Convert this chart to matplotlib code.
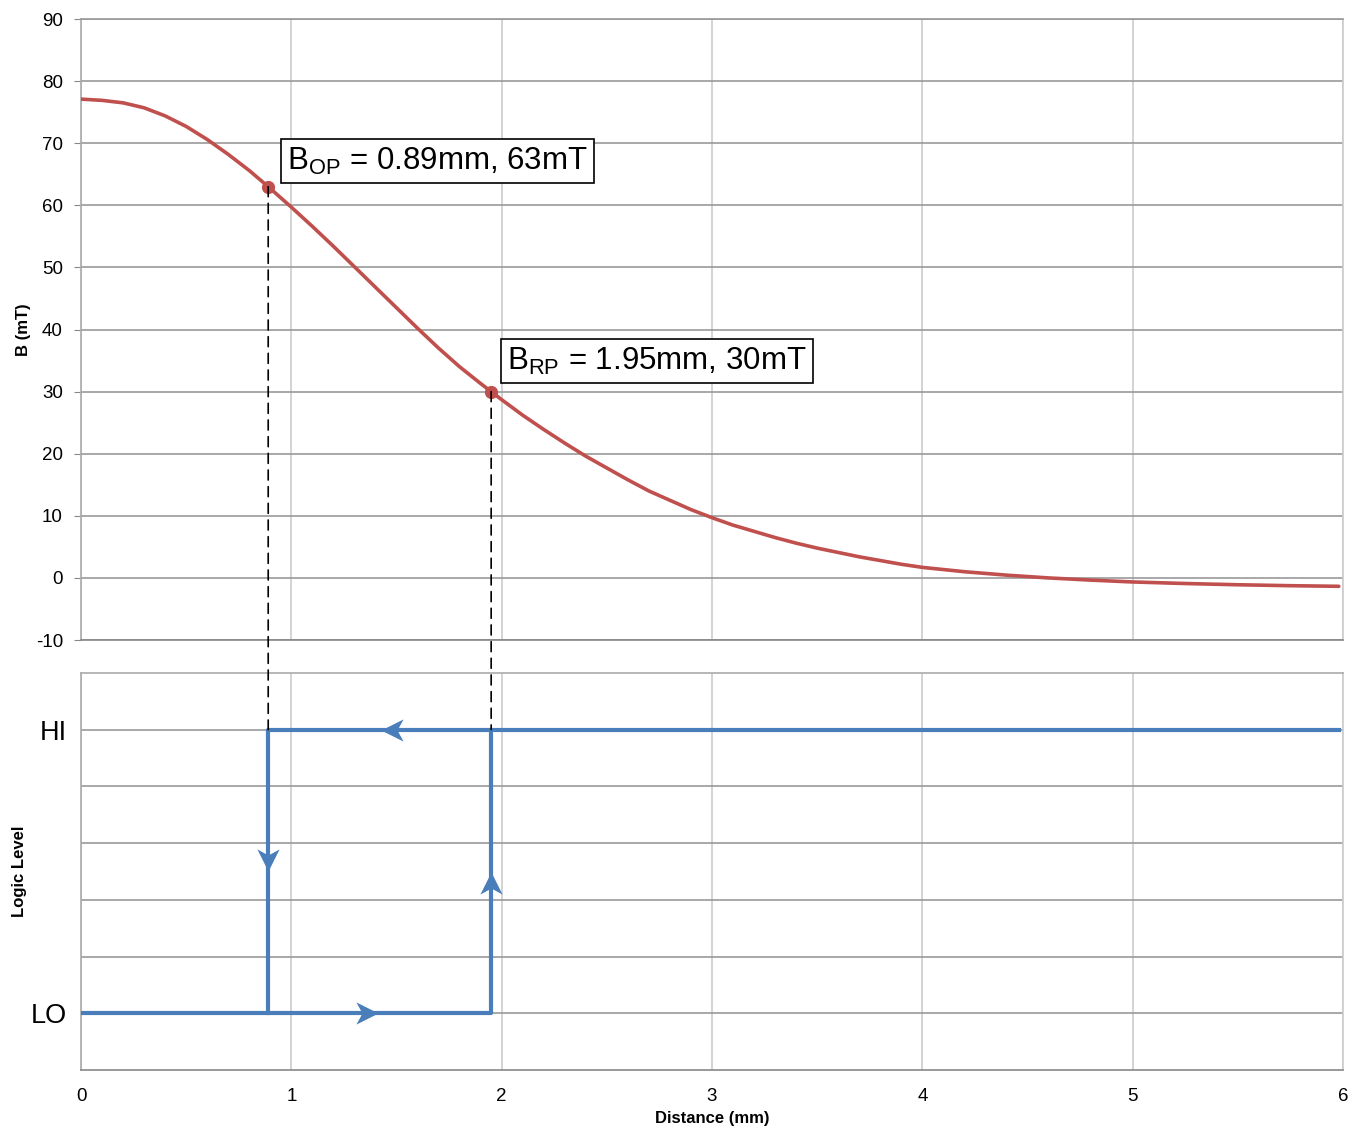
"""Hall sensor field vs distance, with the switching hysteresis below"""

import numpy as np
import matplotlib
matplotlib.use('Agg')
import matplotlib.pyplot as plt
from matplotlib.path import Path
from matplotlib.patches import ConnectionPatch

plt.rcParams['font.family'] = ['Liberation Sans', 'DejaVu Sans']
plt.rcParams['mathtext.default'] = 'regular'
plt.rcParams['axes.unicode_minus'] = False

# field curve
dist_mm = [0, 0.1, 0.2, 0.3, 0.4, 0.5, 0.6, 0.7, 0.8, 0.89,
           1.0, 1.1, 1.2, 1.3, 1.4, 1.5, 1.6, 1.7, 1.8, 1.9, 1.95,
           2.0, 2.1, 2.2, 2.3, 2.4, 2.5, 2.6, 2.7, 2.8, 2.9,
           3.0, 3.1, 3.2, 3.3, 3.4, 3.5, 3.6, 3.7, 3.8, 3.9,
           4.0, 4.2, 4.4, 4.6, 4.8, 5.0, 5.25, 5.5, 5.75, 5.98]
field_mT = [77.1, 76.9, 76.5, 75.7, 74.4, 72.7, 70.6, 68.2, 65.6, 63.0,
            59.7, 56.6, 53.4, 50.1, 46.8, 43.5, 40.2, 37.0, 34.0, 31.3, 30.0,
            28.7, 26.2, 23.9, 21.7, 19.6, 17.7, 15.8, 14.0, 12.5, 11.0,
            9.7, 8.5, 7.5, 6.5, 5.6, 4.8, 4.1, 3.4, 2.8, 2.2,
            1.7, 1.0, 0.45, 0.0, -0.35, -0.65, -0.9, -1.1, -1.25, -1.35]

# operate / release points
op_point = (0.89, 63)
rp_point = (1.95, 30)

# logic output: 0 = LO, 5 = HI
rise_x = [0, 1.95, 1.95]
rise_y = [0, 0, 5]
fall_x = [5.98, 0.89, 0.89]
fall_y = [5, 5, 0]
logic_ticks = [0, 5]
logic_labels = ['LO', 'HI']

red = '#c0504d'
blue = '#4a7ebb'
hgrid = '#999999'
vgrid = '#cccccc'


def arrow_marker(angle):
    # chevron arrow head with a notched back, pointing along angle (deg)
    pts = np.array([[1.0, 0.0], [-1.0, 1.0], [-0.45, 0.0], [-1.0, -1.0], [1.0, 0.0]])
    a = np.deg2rad(angle)
    rot = np.array([[np.cos(a), -np.sin(a)], [np.sin(a), np.cos(a)]])
    pts = pts @ rot.T
    codes = [Path.MOVETO, Path.LINETO, Path.LINETO, Path.LINETO, Path.CLOSEPOLY]
    return Path(pts, codes)


fig = plt.figure(figsize=(13.57, 11.31), dpi=100)
ax1 = fig.add_axes([0.0597, 0.4341, 0.93, 0.5491])
ax2 = fig.add_axes([0.0597, 0.0539, 0.93, 0.3511])

# ---- top: field ----
ax1.plot(dist_mm, field_mT, color=red, lw=2.6, solid_capstyle='round',
         solid_joinstyle='round', zorder=3)
ax1.plot(*op_point, 'o', color=red, ms=8.5, zorder=4)
ax1.plot(*rp_point, 'o', color=red, ms=8.5, zorder=4)
ax1.set_xlim(0, 6)
ax1.set_ylim(-10, 90)
ax1.set_yticks(range(-10, 91, 10))
ax1.set_xticks(range(0, 7))
ax1.tick_params(axis='x', length=0, labelbottom=False)
ax1.tick_params(axis='y', labelsize=13.5, length=5, color='#888888', pad=8)
ax1.set_ylabel('B (mT)', fontsize=12, fontweight='bold')
ax1.yaxis.grid(True, color=hgrid, lw=1.2)
ax1.xaxis.grid(True, color=vgrid, lw=1.2)
ax1.set_axisbelow(True)
ax1.spines['left'].set_color('#aaaaaa')
ax1.spines['bottom'].set_color('#888888')
ax1.spines['top'].set_color(hgrid)
ax1.spines['right'].set_color(vgrid)
for sp in ax1.spines.values():
    sp.set_linewidth(1.2)

box = dict(boxstyle='square,pad=0.2', fc='white', ec='black', lw=1.2)
ax1.text(0.98, 64.6, 'B$_{OP}$ = 0.89mm, 63mT', fontsize=22.5, ha='left', va='bottom', bbox=box, zorder=5)
ax1.text(2.026, 32.4, 'B$_{RP}$ = 1.95mm, 30mT', fontsize=22.5, ha='left', va='bottom', bbox=box, zorder=5)

# ---- bottom: logic level ----
ax2.plot(rise_x, rise_y, color=blue, lw=3, zorder=3)
ax2.plot(fall_x, fall_y, color=blue, lw=3, zorder=3)
ax2.plot(1.36, 0, marker=arrow_marker(0), color=blue, ms=16, mew=0, zorder=4)
ax2.plot(1.48, 5, marker=arrow_marker(180), color=blue, ms=16, mew=0, zorder=4)
ax2.plot(0.89, 2.70, marker=arrow_marker(-90), color=blue, ms=16, mew=0, zorder=4)
ax2.plot(1.95, 2.30, marker=arrow_marker(90), color=blue, ms=16, mew=0, zorder=4)
ax2.set_xlim(0, 6)
ax2.set_ylim(-1, 6)
ax2.set_xticks(range(0, 7))
ax2.set_yticks(logic_ticks, logic_labels)
ax2.set_yticks(range(0, 6), minor=True)
ax2.tick_params(axis='y', which='major', labelsize=19.5, length=0, pad=10)
ax2.tick_params(axis='y', which='minor', length=0)
ax2.tick_params(axis='x', labelsize=13.5, length=0, pad=13)
ax2.yaxis.grid(True, which='both', color=hgrid, lw=1.2)
ax2.xaxis.grid(True, color=vgrid, lw=1.2)
ax2.set_axisbelow(True)
ax2.set_ylabel('Logic Level', fontsize=12, fontweight='bold')
ax2.set_xlabel('Distance (mm)', fontsize=12, fontweight='bold', labelpad=4)
ax2.spines['left'].set_color('#aaaaaa')
ax2.spines['bottom'].set_color('#888888')
ax2.spines['top'].set_color('#aaaaaa')
ax2.spines['right'].set_color(vgrid)
for sp in ax2.spines.values():
    sp.set_linewidth(1.2)

# dashed drop lines from the switch points to the HI level
for px, py in (op_point, rp_point):
    con = ConnectionPatch(xyA=(px, py), coordsA=ax1.transData,
                          xyB=(px, 5), coordsB=ax2.transData,
                          color='black', lw=1.2, linestyle=(0, (6, 4)), zorder=2)
    fig.add_artist(con)

ax1.yaxis.set_label_coords(-0.040, 0.5)
ax2.yaxis.set_label_coords(-0.043, 0.5)

plt.savefig('out.png', dpi=100)
